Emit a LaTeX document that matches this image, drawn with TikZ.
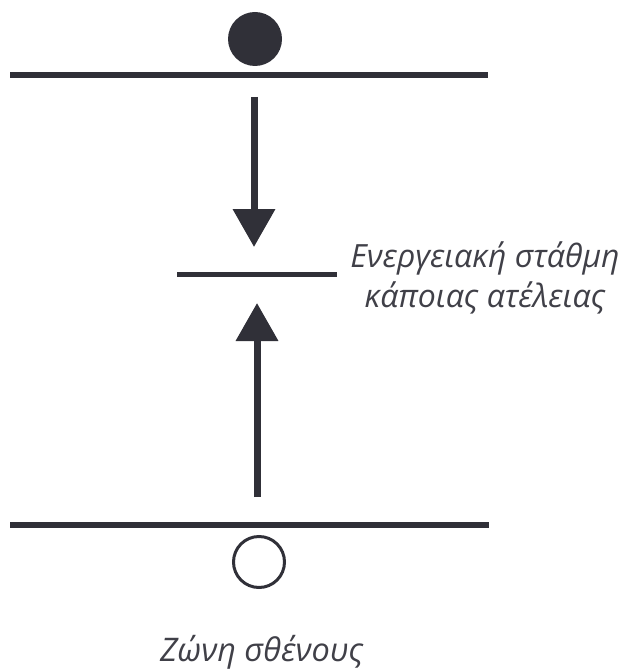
\documentclass[tikz,border=0pt]{standalone}
\usepackage{fontspec}
\setmainfont{Open Sans}
\usetikzlibrary{arrows.meta}
\definecolor{ink}{RGB}{48,48,56}
\definecolor{txt}{RGB}{64,64,72}
\tikzset{
  level/.style={line width=6pt, draw=ink},
  transition/.style={line width=7pt, draw=ink, -{Triangle[width=41pt,length=38pt]}},
  lbl/.style={font=\fontsize{32}{40}\selectfont\itshape, text=txt, inner sep=0pt, align=center},
}
\begin{document}
\begin{tikzpicture}[x=1pt,y=-1pt]
  \useasboundingbox (0,0) rectangle (627,671);
  % levels
  \coordinate (cbL) at (10,75);   \coordinate (cbR) at (488,75);
  \coordinate (dL) at (177,274);  \coordinate (dR) at (337,274);
  \coordinate (vbL) at (10,525);  \coordinate (vbR) at (489,525);
  \draw[level] (cbL) -- (cbR);
  \draw[level, line width=5pt] (dL) -- (dR);
  \draw[level] (vbL) -- (vbR);
  % electron and hole
  \node[circle, fill=ink, minimum size=54pt, inner sep=0pt] (e) at (255,39) {};
  \node[circle, draw=ink, line width=3pt, minimum size=51pt, inner sep=0pt] (h) at (259,562) {};
  % transitions
  \coordinate (a1s) at (254,97);  \coordinate (a1e) at (254,247);
  \coordinate (a2s) at (257,497); \coordinate (a2e) at (257,303);
  \draw[transition] (a1s) -- (a1e);
  \draw[transition] (a2s) -- (a2e);
  % labels
  \node[lbl, anchor=base] (t1) at (485,307) {Ενεργειακή στάθμη\\κάποιας ατέλειας};
  \node[lbl, anchor=base west, font=\fontsize{32.5}{40}\selectfont\itshape] (t2) at (160,661) {Ζώνη σθένους};
\end{tikzpicture}
\end{document}
